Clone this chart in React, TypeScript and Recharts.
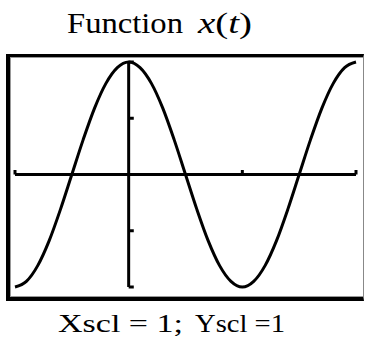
import React from "react";
import { LineChart, Line, XAxis, YAxis, ReferenceLine } from "recharts";

const tValues = [-1, -0.9, -0.8, -0.7, -0.6, -0.5, -0.4, -0.3, -0.2, -0.1, 0, 0.1, 0.2, 0.3, 0.4, 0.5, 0.6, 0.7, 0.8, 0.9, 1, 1.1, 1.2, 1.3, 1.4, 1.5, 1.6, 1.7, 1.8, 1.9, 2];
const xValues = [-2, -1.9, -1.62, -1.18, -0.62, 0, 0.62, 1.18, 1.62, 1.9, 2, 1.9, 1.62, 1.18, 0.62, 0, -0.62, -1.18, -1.62, -1.9, -2, -1.9, -1.62, -1.18, -0.62, 0, 0.62, 1.18, 1.62, 1.9, 2];
const xTicks = [-1, 1, 2];
const yTicks = [-2, -1, 1, 2];
const titleMain = "Function";
const titleVarParts = [
  { s: "x", italic: true },
  { s: "(", italic: false },
  { s: "t", italic: true },
  { s: ")", italic: false },
];
const footerLeft = "Xscl = 1;";
const footerRight = "Yscl =1";

const data = tValues.map((t, i) => ({ t, x: xValues[i] }));

const serif = "Liberation Serif";

export default function App() {
  return (
    <div style={{ position: "absolute", left: 0, top: 0, width: 365, height: 339, background: "#fff" }}>
      <LineChart
        width={365}
        height={339}
        data={data}
        margin={{ top: 62, left: 15, right: 9, bottom: 52 }}
      >
        <XAxis dataKey="t" type="number" domain={[-1, 2]} hide />
        <YAxis type="number" domain={[-2, 2]} hide />
        <ReferenceLine y={0} stroke="#000" strokeWidth={3} />
        <ReferenceLine x={0} stroke="#000" strokeWidth={3} />
        {xTicks.map((v) => (
          <ReferenceLine
            key={"xt" + v}
            segment={[{ x: v, y: 0 }, { x: v, y: 0.08 }]}
            stroke="#000"
            strokeWidth={3}
          />
        ))}
        {yTicks.map((v) => (
          <ReferenceLine
            key={"yt" + v}
            segment={[{ x: 0, y: v }, { x: 0.045, y: v }]}
            stroke="#000"
            strokeWidth={3}
          />
        ))}
        <Line
          dataKey="x"
          type="monotone"
          stroke="#000"
          strokeWidth={3}
          dot={false}
          isAnimationActive={false}
        />
      </LineChart>
      <div
        style={{
          position: "absolute",
          left: 6,
          top: 54,
          width: 358,
          height: 247,
          boxSizing: "border-box",
          borderLeft: "4px solid #000",
          borderTop: "3px solid #000",
          borderBottom: "4px solid #000",
          borderRight: "1px solid #888",
          boxShadow: "inset 1px 1px 0 #999, inset 0 -1px 0 #999",
          pointerEvents: "none",
        }}
      />
      <svg
        width={365}
        height={339}
        style={{ position: "absolute", left: 0, top: 0, pointerEvents: "none" }}
      >
        <text x={67} y={33} style={{ fontFamily: serif }} fontSize={30} fill="#000" textLength={116} lengthAdjust="spacingAndGlyphs">
          {titleMain}
        </text>
        <text x={198} y={33} style={{ fontFamily: serif }} fontSize={30} fill="#000" textLength={54} lengthAdjust="spacingAndGlyphs">
          {titleVarParts.map((p, i) => (
            <tspan key={i} fontStyle={p.italic ? "italic" : "normal"}>{p.s}</tspan>
          ))}
        </text>
        <text x={58} y={332} style={{ fontFamily: serif }} fontSize={26} fill="#000" textLength={125} lengthAdjust="spacingAndGlyphs">
          {footerLeft}
        </text>
        <text x={195} y={332} style={{ fontFamily: serif }} fontSize={26} fill="#000" textLength={90} lengthAdjust="spacingAndGlyphs">
          {footerRight}
        </text>
      </svg>
    </div>
  );
}
